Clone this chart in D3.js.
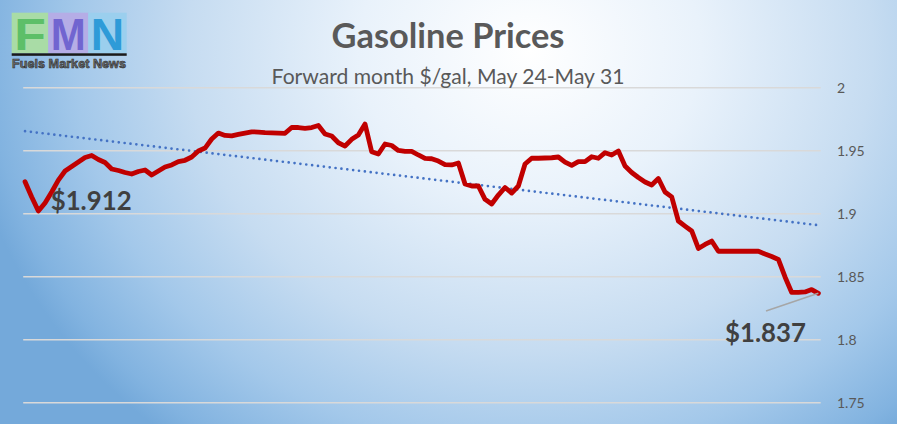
<!DOCTYPE html>
<html>
<head>
<meta charset="utf-8">
<script src="https://cdn.jsdelivr.net/npm/d3@7/dist/d3.min.js"></script>
<style>
  html, body { margin: 0; padding: 0; background: #fff; }
  svg { display: block; }
</style>
</head>
<body>
<svg id="chart" width="897" height="424"></svg>
<script>
// ---------------- DATA ----------------
const titleText = "Gasoline Prices";
const subtitleText = "Forward month $/gal, May 24-May 31";

// forward-month gasoline price, May 24 - May 31
const prices = [
  1.9254, 1.9133, 1.9021, 1.9085, 1.9172, 1.9267, 1.9339, 1.9375, 1.9410, 1.9446,
  1.9462, 1.9430, 1.9406, 1.9355, 1.9343, 1.9327, 1.9315, 1.9335, 1.9347, 1.9307,
  1.9339, 1.9371, 1.9387, 1.9414, 1.9424, 1.9450, 1.9498, 1.9521, 1.9593, 1.9640,
  1.9621, 1.9617, 1.9629, 1.9640, 1.9650, 1.9648, 1.9644, 1.9642, 1.9640, 1.9638,
  1.9684, 1.9684, 1.9678, 1.9684, 1.9700, 1.9633, 1.9617, 1.9563, 1.9537, 1.9590,
  1.9625, 1.9712, 1.9492, 1.9474, 1.9553, 1.9541, 1.9502, 1.9494, 1.9495, 1.9466,
  1.9439, 1.9436, 1.9418, 1.9390, 1.9387, 1.9402, 1.9236, 1.9220, 1.9220, 1.9114,
  1.9077, 1.9148, 1.9208, 1.9164, 1.9220, 1.9394, 1.9440, 1.9440, 1.9442, 1.9444,
  1.9450, 1.9410, 1.9383, 1.9413, 1.9413, 1.9452, 1.9440, 1.9484, 1.9466, 1.9498,
  1.9379, 1.9327, 1.9287, 1.9252, 1.9228, 1.9279, 1.9172, 1.9133, 1.8942, 1.8902,
  1.8863, 1.8724, 1.8756, 1.8783, 1.8702, 1.8702, 1.8702, 1.8702, 1.8702, 1.8702,
  1.8702, 1.8680, 1.8660, 1.8637, 1.8498, 1.8375, 1.8376, 1.8379, 1.8398, 1.8368
];
const categories = prices.map((d, i) => i);

const yTicks = [1.75, 1.8, 1.85, 1.9, 1.95, 2];
const yTickLabels = ["1.75", "1.8", "1.85", "1.9", "1.95", "2"];

const startLabel = "$1.912";
const endLabel = "$1.837";

const logoLetters = ["F", "M", "N"];
const logoCaption = "Fuels Market News";

// ---------------- LAYOUT ----------------
const W = 897, H = 424;
const plot = { left: 21.7, right: 821.7, top: 87.7, bottom: 402.7 };

const svg = d3.select("#chart");
const defs = svg.append("defs");

// background gradient (elliptical radial, light near top centre)
const grad = defs.append("radialGradient")
  .attr("id", "bg")
  .attr("gradientUnits", "userSpaceOnUse")
  .attr("cx", 0).attr("cy", 0).attr("r", 1)
  .attr("gradientTransform", "translate(530,50) scale(570,500)");
[[0, "#ffffff"], [0.3, "#e9f2fb"], [0.6, "#c6dcf1"], [0.8, "#a3c8ea"], [0.95, "#82b3e0"], [1, "#74a9da"]]
  .forEach(([o, c]) => grad.append("stop").attr("offset", o).attr("stop-color", c));

svg.append("rect").attr("width", W).attr("height", H).attr("fill", "url(#bg)");

// scales
const x = d3.scalePoint().domain(categories).range([plot.left, plot.right]).padding(0.5);
const y = d3.scaleLinear().domain([1.75, 2]).range([plot.bottom, plot.top]);

// gridlines
svg.append("g").selectAll("line").data(yTicks).join("line")
  .attr("x1", plot.left + 1.5).attr("x2", plot.right - 1)
  .attr("y1", d => y(d)).attr("y2", d => y(d))
  .attr("stroke", "#d9d9d9").attr("stroke-width", 1.6);

// y tick labels (right side)
const labelFont = "Lato, 'Open Sans', sans-serif";
const tickG = svg.append("g");
tickG.selectAll("text").data(yTicks).join("text")
  .attr("x", 837).attr("y", d => y(d))
  .attr("dy", "0.36em")
  .attr("font-family", labelFont)
  .attr("font-size", 16)
  .attr("fill", "#595959")
  .text((d, i) => yTickLabels[i]);

// fit tick label size so "1.95" ~ 27.7px wide
(function () {
  const nodes = tickG.selectAll("text").nodes();
  const ref = nodes[yTickLabels.indexOf("1.95")];
  const w = ref.getComputedTextLength();
  const fs = 16 * 27.7 / w;
  tickG.selectAll("text").attr("font-size", fs);
})();

// trendline (linear least squares, like Excel)
const n = prices.length;
const mx = d3.mean(categories), my = d3.mean(prices);
let sxy = 0, sxx = 0;
categories.forEach((c, i) => { sxy += (c - mx) * (prices[i] - my); sxx += (c - mx) * (c - mx); });
const slope = sxy / sxx, intercept = my - slope * mx;
const trend = [categories[0], categories[n - 1]].map(c => ({ c, v: intercept + slope * c }));

svg.append("path")
  .datum(trend)
  .attr("d", d3.line().x(d => x(d.c)).y(d => y(d.v)))
  .attr("fill", "none")
  .attr("stroke", "#4472c4")
  .attr("stroke-width", 2.7)
  .attr("stroke-linecap", "round")
  .attr("stroke-dasharray", "0 5.9");

// price line
svg.append("path")
  .datum(prices)
  .attr("d", d3.line().x((d, i) => x(categories[i])).y(d => y(d)))
  .attr("fill", "none")
  .attr("stroke", "#c00000")
  .attr("stroke-width", 4.8)
  .attr("stroke-linejoin", "round")
  .attr("stroke-linecap", "round");

// annotations
function fitWidth(sel, target) {
  const fs = parseFloat(sel.attr("font-size"));
  const w = sel.node().getComputedTextLength();
  sel.attr("font-size", fs * target / w);
}
const annFont = "Lato, 'Open Sans', sans-serif";
const a1 = svg.append("text")
  .attr("x", 50.7).attr("y", 209.5)
  .attr("font-family", annFont).attr("font-weight", 700)
  .attr("font-size", 30).attr("fill", "#404040")
  .text(startLabel);
fitWidth(a1, 81);

// leader for end label
const last = n - 1;
svg.append("line")
  .attr("x1", 766).attr("y1", 311)
  .attr("x2", x(categories[last])).attr("y2", y(prices[last]))
  .attr("stroke", "#a6a6a6").attr("stroke-width", 1.5);

const a2 = svg.append("text")
  .attr("x", 725).attr("y", 341.7)
  .attr("font-family", annFont).attr("font-weight", 700)
  .attr("font-size", 30).attr("fill", "#404040")
  .text(endLabel);
fitWidth(a2, 81);

// title / subtitle
const t1 = svg.append("text")
  .attr("x", 448).attr("y", 47.7).attr("text-anchor", "middle")
  .attr("font-family", annFont).attr("font-weight", 700)
  .attr("font-size", 30).attr("fill", "#595959")
  .text(titleText);
fitWidth(t1, 233);

const t2 = svg.append("text")
  .attr("x", 448).attr("y", 84).attr("text-anchor", "middle")
  .attr("font-family", annFont)
  .attr("font-size", 19).attr("fill", "#595959")
  .text(subtitleText);
fitWidth(t2, 353);

// ---------------- LOGO ----------------
const logo = svg.append("g");
const tiles = [
  { x: 11.7, w: 36.6, bg: "#a9dca6", fg: "#5dbf68" },
  { x: 48.3, w: 40,   bg: "#b5ade6", fg: "#7165d0" },
  { x: 88.3, w: 38.4, bg: "#9bcfee", fg: "#2e9bd8" }
];
tiles.forEach((t, i) => {
  logo.append("rect").attr("x", t.x).attr("y", 12.7).attr("width", t.w).attr("height", 40.6)
    .attr("fill", t.bg);
  logo.append("text")
    .attr("x", t.x + t.w / 2).attr("y", 50)
    .attr("text-anchor", "middle")
    .attr("font-family", "'Liberation Sans', Arial, sans-serif")
    .attr("font-weight", 700).attr("font-size", 44)
    .attr("textLength", t.w - 5).attr("lengthAdjust", "spacingAndGlyphs")
    .attr("fill", t.fg)
    .text(logoLetters[i]);
});
logo.append("rect").attr("x", 11.7).attr("y", 53.3).attr("width", 115).attr("height", 2.5).attr("fill", "#1a1a1a");
logo.append("text")
  .attr("x", 12).attr("y", 68)
  .attr("font-family", "'Liberation Sans', Arial, sans-serif")
  .attr("font-weight", 700).attr("font-size", 13)
  .attr("textLength", 114).attr("lengthAdjust", "spacingAndGlyphs")
  .attr("fill", "#707070").attr("stroke", "#2a2a2a").attr("stroke-width", 0.6)
  .text(logoCaption);
</script>
</body>
</html>
